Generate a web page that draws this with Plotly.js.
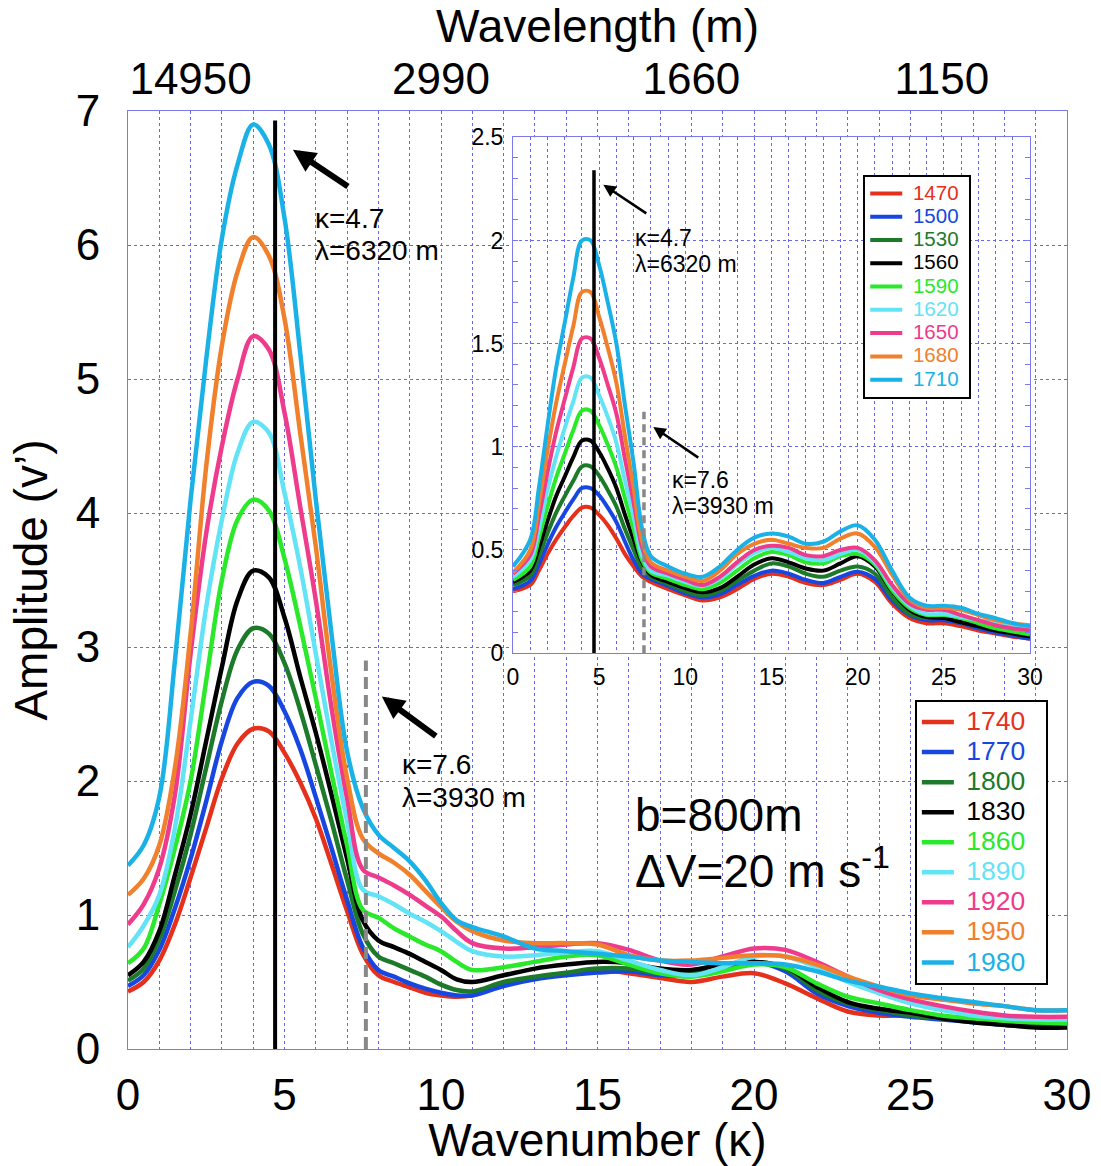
<!DOCTYPE html>
<html><head><meta charset="utf-8">
<script src="https://cdn.plot.ly/plotly-3.0.1.min.js"></script>
<style>html,body{margin:0;padding:0;background:#fff;}#chart{width:1101px;height:1166px;}</style>
</head><body><div id="chart"></div>
<script>
// ---------- main panel data (wavenumber κ vs amplitude v') ----------
const kappaMain = [0,0.5,1,1.5,2,2.5,3,3.5,4,4.5,5,5.5,6,6.5,7,7.5,8,8.5,9,9.5,10,10.5,11,12,13,14,15,16,17,18,19,20,21,22,23,24,25,26,27,28,29,30];
const amp1740 = [0.43,0.50,0.66,0.93,1.28,1.65,2.02,2.28,2.39,2.37,2.21,1.99,1.72,1.38,1.03,0.71,0.55,0.50,0.46,0.42,0.40,0.39,0.40,0.48,0.53,0.56,0.59,0.565,0.53,0.50,0.54,0.565,0.49,0.38,0.28,0.25,0.25,0.24,0.22,0.18,0.17,0.17];
const amp1770 = [0.47,0.55,0.74,1.05,1.42,1.85,2.30,2.62,2.74,2.71,2.52,2.24,1.88,1.50,1.11,0.76,0.59,0.54,0.49,0.45,0.42,0.40,0.40,0.47,0.52,0.55,0.57,0.58,0.55,0.55,0.59,0.65,0.58,0.415,0.32,0.27,0.24,0.22,0.20,0.18,0.17,0.17];
const amp1800 = [0.51,0.60,0.82,1.18,1.60,2.10,2.60,2.98,3.14,3.10,2.88,2.53,2.12,1.70,1.26,0.86,0.69,0.64,0.59,0.54,0.48,0.44,0.43,0.50,0.54,0.57,0.60,0.60,0.565,0.565,0.59,0.65,0.60,0.44,0.34,0.29,0.25,0.23,0.21,0.18,0.17,0.17];
const amp1830 = [0.55,0.65,0.88,1.30,1.75,2.30,2.85,3.35,3.57,3.52,3.22,2.78,2.36,1.90,1.42,0.96,0.81,0.76,0.71,0.65,0.59,0.52,0.50,0.55,0.60,0.63,0.65,0.64,0.60,0.59,0.63,0.65,0.61,0.465,0.35,0.30,0.27,0.23,0.20,0.18,0.16,0.16];
const amp1860 = [0.64,0.75,1.08,1.50,2.00,2.75,3.50,3.95,4.10,4.02,3.66,3.16,2.62,2.06,1.52,1.04,0.98,0.90,0.84,0.78,0.73,0.65,0.59,0.61,0.65,0.69,0.70,0.63,0.565,0.54,0.58,0.63,0.61,0.49,0.39,0.34,0.29,0.25,0.23,0.21,0.20,0.19];
const amp1890 = [0.76,0.92,1.15,1.65,2.45,3.30,3.95,4.45,4.68,4.60,4.15,3.60,2.95,2.30,1.70,1.19,1.14,1.08,1.01,0.95,0.88,0.80,0.73,0.69,0.70,0.72,0.73,0.66,0.59,0.55,0.61,0.69,0.69,0.61,0.50,0.415,0.34,0.29,0.25,0.23,0.22,0.22];
const amp1920 = [0.93,1.08,1.35,1.90,2.95,3.85,4.50,5.00,5.32,5.22,4.75,4.05,3.35,2.55,1.87,1.34,1.28,1.22,1.15,1.07,0.99,0.88,0.79,0.75,0.76,0.78,0.79,0.74,0.66,0.63,0.69,0.75,0.74,0.65,0.54,0.44,0.37,0.32,0.28,0.25,0.24,0.24];
const amp1950 = [1.15,1.27,1.52,2.10,3.10,4.35,5.25,5.80,6.06,5.92,5.45,4.60,3.75,2.80,2.02,1.57,1.46,1.39,1.30,1.18,1.06,0.95,0.88,0.81,0.79,0.79,0.78,0.70,0.66,0.66,0.68,0.70,0.69,0.63,0.54,0.465,0.40,0.37,0.34,0.32,0.29,0.29];
const amp1980 = [1.37,1.52,1.88,2.90,4.10,5.15,6.05,6.60,6.90,6.75,6.20,5.20,4.10,3.10,2.22,1.80,1.60,1.50,1.40,1.26,1.09,0.96,0.91,0.84,0.75,0.73,0.71,0.69,0.66,0.65,0.64,0.64,0.63,0.58,0.51,0.465,0.415,0.38,0.35,0.32,0.29,0.29];
const mainLabels = ['1740','1770','1800','1830','1860','1890','1920','1950','1980'];

// ---------- inset panel data ----------
const kappaInset = [0,1,1.5,2,2.5,3,3.5,4,4.5,5,5.5,6,6.5,7,7.5,8,9,10,11,12,13,14,15,16,17,18,19,20,21,22,23,24,25,26,27,28,29,30];
const amp1470 = [0.30,0.33,0.40,0.48,0.55,0.61,0.665,0.705,0.705,0.67,0.62,0.555,0.48,0.42,0.37,0.345,0.31,0.28,0.255,0.27,0.31,0.36,0.385,0.37,0.34,0.33,0.355,0.385,0.345,0.24,0.17,0.145,0.145,0.13,0.11,0.095,0.08,0.07];
const amp1500 = [0.31,0.35,0.43,0.525,0.61,0.68,0.745,0.80,0.80,0.765,0.705,0.635,0.54,0.45,0.385,0.36,0.325,0.29,0.27,0.285,0.33,0.375,0.40,0.385,0.355,0.34,0.37,0.395,0.36,0.255,0.185,0.16,0.16,0.145,0.12,0.10,0.085,0.07];
const amp1530 = [0.33,0.375,0.47,0.58,0.68,0.76,0.835,0.905,0.905,0.86,0.79,0.71,0.60,0.50,0.41,0.37,0.335,0.30,0.28,0.30,0.35,0.40,0.435,0.42,0.385,0.37,0.40,0.42,0.385,0.27,0.19,0.17,0.17,0.15,0.13,0.11,0.095,0.08];
const amp1560 = [0.345,0.40,0.51,0.64,0.76,0.855,0.95,1.03,1.03,0.975,0.895,0.80,0.67,0.55,0.44,0.38,0.345,0.315,0.295,0.315,0.37,0.43,0.46,0.44,0.41,0.40,0.435,0.47,0.42,0.30,0.21,0.175,0.17,0.15,0.13,0.11,0.095,0.08];
const amp1590 = [0.355,0.42,0.555,0.71,0.85,0.965,1.08,1.175,1.175,1.105,1.01,0.90,0.75,0.60,0.45,0.39,0.36,0.33,0.31,0.34,0.40,0.46,0.49,0.475,0.44,0.435,0.47,0.48,0.43,0.305,0.22,0.185,0.185,0.17,0.145,0.12,0.105,0.09];
const amp1620 = [0.37,0.45,0.60,0.79,0.95,1.09,1.22,1.335,1.335,1.25,1.145,1.02,0.835,0.66,0.47,0.40,0.375,0.345,0.325,0.36,0.43,0.485,0.51,0.49,0.46,0.45,0.48,0.50,0.44,0.32,0.23,0.19,0.19,0.175,0.16,0.145,0.13,0.12];
const amp1650 = [0.385,0.475,0.66,0.875,1.07,1.23,1.385,1.525,1.525,1.43,1.30,1.16,0.94,0.73,0.51,0.42,0.385,0.355,0.33,0.37,0.44,0.50,0.52,0.51,0.475,0.47,0.50,0.51,0.45,0.33,0.24,0.21,0.21,0.185,0.16,0.135,0.12,0.11];
const amp1680 = [0.39,0.50,0.72,0.98,1.21,1.40,1.585,1.75,1.75,1.63,1.48,1.31,1.05,0.80,0.54,0.44,0.40,0.37,0.35,0.40,0.48,0.53,0.55,0.53,0.51,0.51,0.555,0.58,0.515,0.38,0.26,0.22,0.22,0.21,0.185,0.16,0.145,0.135];
const amp1710 = [0.42,0.55,0.80,1.10,1.38,1.60,1.82,2.00,2.00,1.88,1.70,1.50,1.20,0.92,0.60,0.47,0.42,0.385,0.37,0.42,0.50,0.56,0.58,0.565,0.53,0.54,0.59,0.62,0.55,0.40,0.27,0.23,0.23,0.22,0.19,0.17,0.145,0.13];
const insetLabels = ['1470','1500','1530','1560','1590','1620','1650','1680','1710'];

// ---------- reference wavenumbers and top wavelength axis ----------
const markKappa = [4.7, 7.6];
const markTopMain = [6.93, 2.9];
const markTopInset = [2.34, 1.17];
const wavelengthTickKappa = [2, 10, 18, 26];
const wavelengthTickText = ['14950', '2990', '1660', '1150'];

const colors = ['#e5301c','#1747e0','#1d7a2b','#000000','#2ae82a','#62e4f6','#ee3b8b','#f0802c','#1ab2e6'];
const axisBlue = '#7a7aee';
const gridBlue = '#6666f2';
const FONT = 'Liberation Sans, Arial, Helvetica, sans-serif';

const mainSeries = [amp1740,amp1770,amp1800,amp1830,amp1860,amp1890,amp1920,amp1950,amp1980];
const insetSeries = [amp1470,amp1500,amp1530,amp1560,amp1590,amp1620,amp1650,amp1680,amp1710];

const traces = [];
mainSeries.forEach((ys, i) => traces.push({
  type:'scatter', mode:'lines', x:kappaMain, y:ys, xaxis:'x', yaxis:'y',
  line:{color:colors[i], width:4.5, shape:'spline', smoothing:1.0},
  name:'<span style="color:'+colors[i]+';font-size:26.5px">&nbsp;'+mainLabels[i]+'&nbsp;&nbsp;</span>',
  legend:'legend', hoverinfo:'skip'
}));
insetSeries.forEach((ys, i) => traces.push({
  type:'scatter', mode:'lines', x:kappaInset, y:ys, xaxis:'x3', yaxis:'y3',
  line:{color:colors[i], width:4, shape:'spline', smoothing:1.0},
  name:'<span style="color:'+colors[i]+';font-size:20.5px">&nbsp;'+insetLabels[i]+'&nbsp;</span>',
  legend:'legend2', hoverinfo:'skip'
}));
// vertical reference lines
traces.push({type:'scatter', mode:'lines', x:[markKappa[0],markKappa[0]], y:[0,markTopMain[0]], xaxis:'x', yaxis:'y',
  line:{color:'#000', width:4}, showlegend:false, hoverinfo:'skip'});
traces.push({type:'scatter', mode:'lines', x:[markKappa[1],markKappa[1]], y:[0,markTopMain[1]], xaxis:'x', yaxis:'y',
  line:{color:'#888', width:4, dash:'12px,6px'}, showlegend:false, hoverinfo:'skip'});
traces.push({type:'scatter', mode:'lines', x:[markKappa[0],markKappa[0]], y:[0,markTopInset[0]], xaxis:'x3', yaxis:'y3',
  line:{color:'#000', width:3.5}, showlegend:false, hoverinfo:'skip'});
traces.push({type:'scatter', mode:'lines', x:[markKappa[1],markKappa[1]], y:[0,markTopInset[1]], xaxis:'x3', yaxis:'y3',
  line:{color:'#888', width:3.5, dash:'8px,5px'}, showlegend:false, hoverinfo:'skip'});
// carrier for the top wavelength axis (draws nothing)
traces.push({type:'scatter', mode:'none', x:wavelengthTickKappa, y:wavelengthTickKappa.map(() => 0), xaxis:'x2', yaxis:'y',
  showlegend:false, hoverinfo:'skip'});

const gridCommon = {gridcolor:gridBlue, griddash:'dot', gridwidth:1, showline:true, linecolor:axisBlue, linewidth:1, zeroline:false};
const arrowTail = {text:'&nbsp;', font:{size:2, family:FONT}, showarrow:true, arrowhead:2, arrowcolor:'#000', standoff:0, startstandoff:0};

const layout = {
  width:1101, height:1166,
  margin:{l:128, r:34, t:111, b:117},
  paper_bgcolor:'#fff', plot_bgcolor:'#fff',
  font:{family:FONT, color:'#000'},
  showlegend:true,
  xaxis:Object.assign({}, gridCommon, {
    domain:[0,1], anchor:'y', range:[0,30], tick0:0, dtick:5, mirror:true, ticks:'',
    minor:{dtick:1, showgrid:true, gridcolor:gridBlue, griddash:'dot', gridwidth:1},
    tickfont:{size:44, family:FONT}, ticklabelstandoff:7,
    title:{text:'Wavenumber (κ)', font:{size:46, family:FONT}, standoff:6}
  }),
  yaxis:Object.assign({}, gridCommon, {
    domain:[0,1], anchor:'x', range:[0,7], tick0:0, dtick:1, mirror:true, ticks:'',
    tickfont:{size:44, family:FONT}, ticklabelstandoff:18,
    title:{text:'Amplitude (v’)', font:{size:46, family:FONT}, standoff:13}
  }),
  xaxis2:{
    overlaying:'x', side:'top', anchor:'y', range:[0,30], tickmode:'array',
    tickvals:wavelengthTickKappa, ticktext:wavelengthTickText, showgrid:false, zeroline:false, showline:false, ticks:'',
    tickfont:{size:44, family:FONT}, ticklabelstandoff:7,
    title:{text:'Wavelength (m)', font:{size:46, family:FONT}, standoff:4}
  },
  xaxis3:Object.assign({}, gridCommon, {
    domain:[0.41, 0.9606], anchor:'y3', range:[0,30], tick0:0, dtick:5, mirror:true, ticks:'',
    minor:{dtick:1, showgrid:true, gridcolor:gridBlue, griddash:'dot', gridwidth:1},
    tickfont:{size:23, family:FONT}, ticklabelstandoff:3
  }),
  yaxis3:Object.assign({}, gridCommon, {
    domain:[0.422, 0.972], anchor:'x3', range:[0,2.5], tick0:0, dtick:0.5, mirror:'ticks',
    ticks:'inside', ticklen:5, tickcolor:axisBlue,
    minor:{dtick:0.1, ticks:'inside', ticklen:5, tickcolor:axisBlue, showgrid:false},
    tickfont:{size:23, family:FONT}, ticklabelstandoff:4
  }),
  legend:{x:0.838, y:0.372, xanchor:'left', yanchor:'top', bgcolor:'#fff', bordercolor:'#000', borderwidth:2,
    font:{size:20.8, family:FONT}, traceorder:'normal', itemwidth:32},
  legend2:{x:0.783, y:0.932, xanchor:'left', yanchor:'top', bgcolor:'#fff', bordercolor:'#000', borderwidth:2,
    font:{size:15.6, family:FONT}, traceorder:'normal', itemwidth:32},
  annotations:[
    // main arrows
    Object.assign({}, arrowTail, {xref:'x', yref:'y', x:5.27, y:6.71, ax:57, ay:38, arrowwidth:6, arrowsize:0.75}),
    Object.assign({}, arrowTail, {xref:'x', yref:'y', x:8.11, y:2.63, ax:56, ay:41, arrowwidth:6, arrowsize:0.75}),
    {xref:'x', yref:'y', x:5.91, y:6.2, text:'κ=4.7', showarrow:false, xanchor:'left', yanchor:'middle', font:{size:28, family:FONT}},
    {xref:'x', yref:'y', x:5.91, y:5.96, text:'λ=6320 m', showarrow:false, xanchor:'left', yanchor:'middle', font:{size:28, family:FONT}},
    {xref:'x', yref:'y', x:8.69, y:2.12, text:'κ=7.6', showarrow:false, xanchor:'left', yanchor:'middle', font:{size:28, family:FONT}},
    {xref:'x', yref:'y', x:8.69, y:1.88, text:'λ=3930 m', showarrow:false, xanchor:'left', yanchor:'middle', font:{size:28, family:FONT}},
    {xref:'x', yref:'y', x:16.15, y:1.75, text:'b=800m', showarrow:false, xanchor:'left', yanchor:'middle', font:{size:46, family:FONT}},
    {xref:'x', yref:'y', x:16.15, y:1.35, text:'ΔV=20 m s<sup>-1</sup>', showarrow:false, xanchor:'left', yanchor:'middle', font:{size:46, family:FONT}},
    // inset arrows
    Object.assign({}, arrowTail, {xref:'x3', yref:'y3', x:5.24, y:2.27, ax:45, ay:30, arrowwidth:2.5, arrowsize:1}),
    Object.assign({}, arrowTail, {xref:'x3', yref:'y3', x:8.14, y:1.096, ax:47, ay:32, arrowwidth:2.5, arrowsize:1}),
    {xref:'x3', yref:'y3', x:6.96, y:2.01, text:'κ=4.7', showarrow:false, xanchor:'left', yanchor:'middle', font:{size:23, family:FONT}},
    {xref:'x3', yref:'y3', x:6.96, y:1.885, text:'λ=6320 m', showarrow:false, xanchor:'left', yanchor:'middle', font:{size:23, family:FONT}},
    {xref:'x3', yref:'y3', x:9.11, y:0.838, text:'κ=7.6', showarrow:false, xanchor:'left', yanchor:'middle', font:{size:23, family:FONT}},
    {xref:'x3', yref:'y3', x:9.11, y:0.712, text:'λ=3930 m', showarrow:false, xanchor:'left', yanchor:'middle', font:{size:23, family:FONT}}
  ]
};

Plotly.newPlot('chart', traces, layout, {displayModeBar:false, staticPlot:true});
</script>
</body></html>
